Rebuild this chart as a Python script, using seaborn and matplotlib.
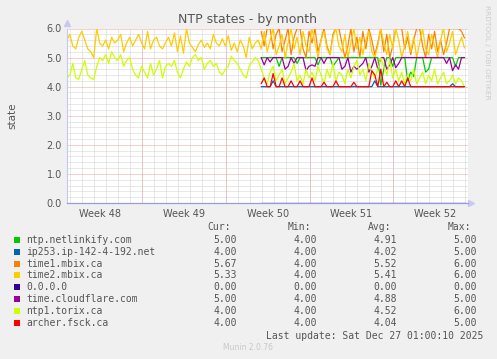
import pandas as pd
import matplotlib
matplotlib.use('Agg')
import matplotlib.pyplot as plt
import matplotlib.dates as mdates
from matplotlib.patches import Rectangle
from matplotlib.ticker import MultipleLocator, FormatStrFormatter
import seaborn as sns

# 采样: 每 6 小时一个点
full_start = '2025-11-23 17:00'   # time2 / torix 从这里开始
late_start = '2025-12-09 23:00'   # 其它服务器从这里开始
step = '6h'

# time2.mbix.ca (整段)
time2_vals = [5.6, 5.8, 5.4, 5.3, 5.7, 5.9, 5.6, 5.3, 5.2, 5.0,
              6.0, 5.5, 5.4, 5.6, 5.3, 5.7, 5.5, 5.6, 5.8, 5.2,
              5.5, 5.7, 5.4, 5.6, 5.8, 5.5, 5.3, 5.9, 5.3, 5.6,
              5.7, 5.4, 5.3, 5.5,
              5.7, 5.4, 5.85, 5.2, 5.75, 5.15, 6.0, 5.5, 5.35, 5.2,
              5.45, 5.6, 5.35, 5.5, 5.3, 5.8, 5.5, 5.4, 5.65, 5.4,
              5.75, 5.25, 5.5, 5.2, 5.6, 5.4, 5.0, 5.7, 5.3, 5.5, 5.6,
              5.3, 5.9, 5.2, 5.6, 6.0, 5.1, 5.4, 5.8, 5.0, 5.5,
              6.0, 5.3, 5.7, 5.1, 5.9, 5.4, 5.2, 6.0, 5.5, 5.0,
              5.6, 5.9, 5.3, 5.1, 5.7, 6.0, 5.4, 5.2, 5.8, 5.0,
              5.5, 6.0, 5.3, 5.7, 5.1, 5.6, 5.9, 5.2, 5.0, 5.4,
              6.0, 5.5, 5.1, 5.8, 5.3, 6.0, 5.6, 5.0, 5.4, 5.9,
              5.2, 5.7, 5.0, 5.5, 6.0, 5.3, 5.1, 5.8, 5.4, 5.0,
              5.6, 6.0, 5.2, 5.5, 5.9, 5.1, 5.4, 5.7, 5.33]

# ntp1.torix.ca (整段)
torix_vals = [4.3, 4.4, 4.8, 4.3, 4.25, 4.6, 4.9, 4.4, 4.3, 4.25,
              4.7, 5.0, 4.9, 5.1, 4.8, 5.2, 5.0, 4.9, 5.1, 4.7,
              4.9, 5.0, 4.6, 4.4, 4.3, 4.7, 4.5, 4.3, 4.8, 4.4,
              4.6, 4.9, 4.3, 4.7,
              4.8, 4.7, 4.9, 4.5, 4.3, 4.6, 4.85, 4.7, 5.0, 5.1,
              4.9, 5.0, 4.6, 4.8, 4.9, 4.7, 4.8, 4.5, 4.4, 4.6,
              4.7, 5.05, 4.9, 4.8, 4.6, 4.4, 4.3, 4.7, 4.85, 5.0, 4.9,
              4.6, 4.3, 4.1, 4.5, 4.7, 4.2, 4.4, 4.6, 4.1, 4.3,
              4.5, 4.8, 4.2, 4.4, 4.1, 4.6, 4.3, 4.5, 4.2, 4.7,
              4.4, 4.1, 4.6, 4.3, 4.8, 4.2, 4.5, 4.4, 4.1, 4.6,
              4.3, 4.7, 4.9, 4.4, 4.6, 4.2, 4.8, 4.5, 4.3, 4.6,
              5.0, 4.7, 4.4, 4.9, 4.3, 4.6, 4.2, 4.5, 4.1, 4.4,
              4.2, 4.6, 4.1, 4.3, 4.5, 4.1, 4.4, 4.2, 4.6, 4.1,
              4.3, 4.5, 4.1, 4.2, 4.4, 4.1, 4.3, 4.2, 4.0]

# time1.mbix.ca
time1_vals = [5.9, 5.4, 6.0, 6.0, 5.3, 5.8, 6.0, 5.2, 5.6, 6.0,
              5.1, 5.7, 6.0, 6.0, 5.3, 5.0, 5.9, 5.5, 6.0, 5.2,
              5.6, 6.0, 5.4, 5.1, 5.8, 6.0, 6.0, 5.5, 5.0, 5.4,
              6.0, 5.2, 5.7, 5.0, 5.9, 5.3, 6.0, 5.6, 5.1, 5.5,
              6.0, 5.2, 5.8, 5.0, 5.4, 6.0, 6.0, 6.0, 5.3, 5.7,
              5.1, 5.6, 6.0, 6.0, 5.4, 5.0, 5.8, 5.3, 5.9, 5.2,
              5.6, 5.1, 5.5, 6.0, 6.0, 6.0, 6.0, 5.9, 5.67]

# time.cloudflare.com
cloudflare_vals = [5.0, 4.75, 5.0, 4.85, 5.0, 5.0, 5.0, 5.0, 4.6, 4.7,
                   5.0, 4.8, 5.0, 5.0, 5.0, 4.55, 4.7, 4.75, 4.7, 5.0,
                   5.0, 4.8, 5.0, 5.0, 5.0, 5.0, 5.0, 4.6, 4.7, 5.0,
                   4.5, 4.7, 4.6, 4.7, 4.8, 5.0, 4.5, 4.7, 5.0, 4.6,
                   5.0, 5.0, 4.6, 4.75, 5.0, 4.65, 4.8, 5.0, 5.0, 5.0,
                   5.0, 5.0, 5.0, 5.0, 5.0, 5.0, 5.0, 5.0, 5.0, 5.0,
                   5.0, 5.0, 4.8, 5.0, 4.55, 4.75, 4.6, 5.0, 5.0]

# ntp.netlinkify.com
netlinkify_vals = [5.0, 5.0, 5.0, 5.0, 5.0, 5.0, 4.7, 5.0, 5.0, 5.0,
                   5.0, 5.0, 4.8, 5.0, 5.0, 5.0, 5.0, 5.0, 5.0, 4.75,
                   5.0, 5.0, 5.0, 5.0, 4.7, 4.85, 5.0, 5.0, 5.0, 5.0,
                   5.0, 5.0, 5.0, 5.0, 5.0, 5.0, 5.0, 5.0, 5.0, 5.0,
                   4.05, 4.6, 5.0, 5.0, 4.7, 5.0, 5.0, 5.0, 5.0, 4.2,
                   4.5, 4.35, 5.0, 5.0, 5.0, 4.5, 4.6, 5.0, 5.0, 5.0,
                   5.0, 5.0, 5.0, 5.0, 5.0, 4.7, 5.0, 5.0, 5.0]

# archer.fsck.ca
archer_vals = [4.1, 4.3, 4.0, 4.0, 4.45, 4.0, 4.0, 4.3, 4.0, 4.0,
               4.2, 4.0, 4.0, 4.2, 4.0, 4.0, 4.0, 4.3, 4.0, 4.0,
               4.0, 4.15, 4.0, 4.0, 4.0, 4.2, 4.0, 4.0, 4.0, 4.0,
               4.0, 4.15, 4.0, 4.0, 4.0, 4.0, 4.0, 4.55, 4.4, 4.0,
               4.6, 4.0, 4.15, 4.0, 4.0, 4.2, 4.0, 4.2, 4.0, 4.3,
               4.0, 4.0, 4.0, 4.0, 4.0, 4.0, 4.0, 4.0, 4.0, 4.0,
               4.0, 4.0, 4.0, 4.0, 4.0, 4.0, 4.0, 4.0, 4.0]

# ip253.ip-142-4-192.net
ip253_vals = [4.0, 4.0, 4.0, 4.0, 4.2, 4.0, 4.0, 4.0, 4.0, 4.0,
              4.0, 4.0, 4.0, 4.0, 4.0, 4.0, 4.0, 4.0, 4.0, 4.0,
              4.0, 4.0, 4.0, 4.0, 4.0, 4.0, 4.0, 4.0, 4.0, 4.0,
              4.0, 4.0, 4.0, 4.0, 4.0, 4.0, 4.0, 4.0, 4.2, 4.0,
              4.0, 4.0, 4.0, 4.0, 4.0, 4.0, 4.0, 4.0, 4.0, 4.0,
              4.0, 4.0, 4.0, 4.0, 4.0, 4.0, 4.0, 4.0, 4.0, 4.0,
              4.0, 4.0, 4.0, 4.0, 4.1, 4.0, 4.0, 4.0, 4.0]

# 0.0.0.0
zero_vals = [0.0] * 69

# 图例 (按 munin 的顺序, 也是绘制顺序)
names = ['ntp.netlinkify.com', 'ip253.ip-142-4-192.net', 'time1.mbix.ca', 'time2.mbix.ca',
         '0.0.0.0', 'time.cloudflare.com', 'ntp1.torix.ca', 'archer.fsck.ca']
colors = ['#00CC00', '#0066B3', '#FF8000', '#FFCC00', '#330099', '#990099', '#CCFF00', '#FF0000']
cur_vals = ['5.00', '4.00', '5.67', '5.33', '0.00', '5.00', '4.00', '4.00']
min_vals = ['4.00', '4.00', '4.00', '4.00', '0.00', '4.00', '4.00', '4.00']
avg_vals = ['4.91', '4.02', '5.52', '5.41', '0.00', '4.88', '4.52', '4.04']
max_vals = ['5.00', '5.00', '6.00', '6.00', '0.00', '5.00', '6.00', '5.00']

week_mids = pd.date_range('2025-11-26 12:00', periods=5, freq='7D')
week_starts = pd.date_range('2025-11-30', periods=4, freq='7D')
x_left, x_right = pd.Timestamp('2025-11-23 16:20'), pd.Timestamp('2025-12-27 06:00')

# 组装长表
full_t = pd.date_range(full_start, periods=len(time2_vals), freq=step)
late_t = pd.date_range(late_start, periods=len(time1_vals), freq=step)
series = {
    'ntp.netlinkify.com': (late_t, netlinkify_vals),
    'ip253.ip-142-4-192.net': (late_t, ip253_vals),
    'time1.mbix.ca': (late_t, time1_vals),
    'time2.mbix.ca': (full_t, time2_vals),
    '0.0.0.0': (late_t, zero_vals),
    'time.cloudflare.com': (late_t, cloudflare_vals),
    'ntp1.torix.ca': (full_t, torix_vals),
    'archer.fsck.ca': (late_t, archer_vals),
}
df = pd.concat([pd.DataFrame({'time': t, 'state': v, 'host': n}) for n, (t, v) in series.items()],
               ignore_index=True)

sns.set_theme(style='white')
plt.rcParams['font.family'] = ['DejaVu Sans']

W, H = 497, 359
txt = '#555555'


def fx(px):
    return px / W


def fy(py):
    return 1 - py / H


fig = plt.figure(figsize=(W / 100, H / 100), dpi=100, facecolor='#F0F0F0')
ax = fig.add_axes([fx(66.5), fy(203), (468 - 66.5) / W, (203 - 28.5) / H])
ax.set_facecolor('white')

sns.lineplot(data=df, x='time', y='state', hue='host', hue_order=names,
             palette=dict(zip(names, colors)), estimator=None, linewidth=0.9,
             legend=False, ax=ax)

# 坐标轴
ax.set_xlim(x_left, x_right)
ax.set_ylim(0, 6)
ax.yaxis.set_major_locator(MultipleLocator(1))
ax.yaxis.set_minor_locator(MultipleLocator(0.2))
ax.yaxis.set_major_formatter(FormatStrFormatter('%.1f'))
ax.xaxis.set_major_locator(mdates.DayLocator())
ax.xaxis.set_major_formatter(plt.NullFormatter())
ax.set_xticks(week_mids, minor=True)
ax.xaxis.set_minor_formatter(mdates.DateFormatter('Week %V'))
ax.set_xlabel('')
ax.set_ylabel('')

# 点状网格
dot = (0, (1, 1))
grid_grey = dict(color='#D2D2D2', lw=0.72, ls=dot)
grid_red = dict(color='#EBA3A3', lw=0.72, ls=dot)
ax.grid(which='major', axis='x', **grid_grey)
ax.grid(which='minor', axis='y', **grid_grey)
ax.grid(which='major', axis='y', **grid_red)
for d in week_starts:
    ax.axvline(d, zorder=1, **grid_red)
ax.set_axisbelow(True)

ax.tick_params(axis='y', which='both', direction='inout', length=2.5, width=0.6,
               color='#B8B8EE', labelsize=7, labelcolor=txt, pad=2)
ax.tick_params(axis='x', which='both', length=0, labelsize=7, labelcolor=txt, pad=4)

for s in ['top', 'right']:
    ax.spines[s].set_visible(False)
ax.spines['left'].set_color('#C8C8F2')
ax.spines['bottom'].set_color('#9A9AE4')
ax.spines['left'].set_linewidth(0.8)
ax.spines['bottom'].set_linewidth(0.9)
ax.spines['bottom'].set_zorder(5)

# 坐标轴箭头
ax.plot([0], [1.03], marker='^', ms=4, color='#C8C8F2', transform=ax.transAxes, clip_on=False)
ax.plot([1.008], [0], marker='>', ms=4, color='#C8C8F2', transform=ax.transAxes, clip_on=False)

# 标题等文字
fig.text(fx(248), fy(19), 'NTP states - by month', ha='center', va='center', fontsize=9, color=txt)
fig.text(fx(12), fy(116), 'state', rotation=90, ha='center', va='center', fontsize=7.5, color=txt)
fig.text(fx(487), fy(5), 'RRDTOOL / TOBI OETIKER', rotation=270, ha='center', va='top',
         fontsize=5.3, color='#CCCCCC')

# 图例表格
mono = dict(family='DejaVu Sans Mono', fontsize=7, color=txt, va='center')
col_ends = [237, 317, 397, 477]
for head, xe in zip(['Cur:', 'Min:', 'Avg:', 'Max:'], col_ends):
    fig.text(fx(xe - 6), fy(227.3), head, ha='right', **mono)
for i, name in enumerate(names):
    y = 240 + 11.8 * i
    fig.add_artist(Rectangle((fx(14), fy(y + 3)), 6 / W, 6 / H, transform=fig.transFigure,
                             color=colors[i], lw=0))
    fig.text(fx(26), fy(y), name, ha='left', **mono)
    for vals, xe in zip([cur_vals, min_vals, avg_vals, max_vals], col_ends):
        fig.text(fx(xe), fy(y), vals[i], ha='right', **mono)

fig.text(fx(483), fy(335.7), 'Last update: Sat Dec 27 01:00:10 2025', ha='right', **mono)
fig.text(fx(248), fy(348), 'Munin 2.0.76', ha='center', va='center', fontsize=5.5, color='#C8C8C8')

plt.savefig('out.png', dpi=100, facecolor=fig.get_facecolor())
plt.close()
